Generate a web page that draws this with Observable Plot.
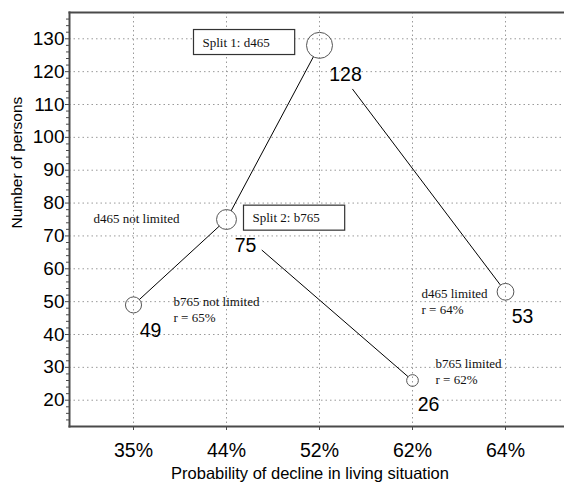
<!DOCTYPE html>
<html><head><meta charset="utf-8">
<script src="https://cdn.jsdelivr.net/npm/d3@7"></script>
<script src="https://cdn.jsdelivr.net/npm/@observablehq/plot@0.6"></script>
<style>body{margin:0;background:#fff} svg{font-family:"Liberation Sans",Arial,sans-serif}</style>
</head><body><div id="chart"></div>
<script>
const categories = ["35%", "44%", "52%", "62%", "64%"];
const persons = [49, 75, 128, 26, 53];
const yTicks = [20, 30, 40, 50, 60, 70, 80, 90, 100, 110, 120, 130];
const yMinorTicks = [14, 16, 18, 22, 24, 26, 28, 32, 34, 36, 38, 42, 44, 46, 48, 52, 54, 56, 58, 62, 64, 66, 68, 72, 74, 76, 78, 82, 84, 86, 88, 92, 94, 96, 98, 102, 104, 106, 108, 112, 114, 116, 118, 122, 124, 126, 128, 132, 134, 136];
const splitLabels = ["Split 1: d465", "Split 2: b765"];
const branchLabels = ["d465 not limited", "b765 not limited\nr = 65%", "d465 limited\nr = 64%", "b765 limited\nr = 62%"];
const xTitle = "Probability of decline in living situation";
const yTitle = "Number of persons";

const nodes = categories.map((p, i) => ({p, n: persons[i]}));
const node = i => [nodes[i]];
const edge = (a, b) => [{x1: categories[a], y1: persons[a], x2: categories[b], y2: persons[b]}];
const serif = "Liberation Serif, Times New Roman, serif";
const grid = {stroke: "#9a9a9a", strokeOpacity: 1, strokeWidth: 1, strokeDasharray: "1.5,3"};
const axisColor = "#4a4a4a";
const tagBox = (i, s, v, d, c, next) => { const g = next(i, s, v, d, c); g.classList.add("split-label"); return g; };

const numLabel = (i, dx, dy) => Plot.text(node(i), {x: "p", y: "n", text: d => String(d.n), dx, dy, fontSize: 19.5, letterSpacing: -0.5, fill: "#000"});
const branch = (i, k, dx, dy) => Plot.text(node(i), {x: "p", y: "n", text: () => branchLabels[k], dx, dy, textAnchor: "start", fontFamily: serif, fontSize: 13, lineHeight: 1.22, fill: "#111"});
const split = (i, k, dx, dy) => Plot.text(node(i), {x: "p", y: "n", text: () => splitLabels[k], dx, dy, textAnchor: "start", fontFamily: serif, fontSize: 13, fill: "#111", render: tagBox});
const link = (a, b, insetStart, insetEnd) => Plot.arrow(edge(a, b), {x1: "x1", y1: "y1", x2: "x2", y2: "y2", insetStart, insetEnd, headLength: 0, stroke: "#000", strokeWidth: 1});

const chart = Plot.plot({
  width: 564,
  height: 486,
  marginLeft: 69,
  marginRight: 0,
  marginTop: 12,
  marginBottom: 60,
  x: {type: "point", domain: categories, range: [132.7, 505], padding: 0},
  y: {domain: [12, 138]},
  r: {type: "sqrt", domain: [0, 128], range: [0, 13]},
  marks: [
    Plot.gridY(yTicks, grid),
    Plot.gridX(categories, grid),
    Plot.frame({anchor: "left", stroke: axisColor, strokeWidth: 2}),
    Plot.frame({anchor: "bottom", stroke: axisColor, strokeWidth: 2}),
    Plot.frame({anchor: "top", stroke: axisColor, strokeWidth: 2}),
    Plot.axisY({ticks: yMinorTicks, tickSize: 3, tickFormat: () => "", label: null, stroke: axisColor}),
    Plot.axisY({ticks: yTicks, tickSize: 4, tickPadding: 1, fontSize: 19, letterSpacing: -0.8, label: null, stroke: axisColor, fill: "#000"}),
    Plot.axisX({tickSize: 4, tickPadding: 13, fontSize: 19.5, letterSpacing: -0.3, label: null, stroke: axisColor, fill: "#000"}),
    link(0, 1, 8, 10),
    link(1, 2, 10, 13),
    link(2, 4, 55, 9),
    link(1, 3, 47, 6),
    Plot.dot(nodes, {x: "p", y: "n", r: "n", stroke: "#555", strokeWidth: 1, fill: "none"}),
    numLabel(0, 17, 26),
    numLabel(1, 19, 26),
    numLabel(2, 26, 29),
    numLabel(3, 16, 24),
    numLabel(4, 17, 25),
    branch(1, 0, -133, -2),
    branch(0, 1, 40, 4),
    branch(4, 2, -84, 9),
    branch(3, 3, 23, -9.5),
    split(2, 0, -117, -3),
    split(1, 1, 26, -1.5),
    Plot.text([yTitle], {frameAnchor: "left", text: d => d, rotate: -90, dx: -52, dy: 9, fontSize: 15.5, fill: "#000"}),
    Plot.text([xTitle], {frameAnchor: "bottom", text: d => d, dx: -7, dy: 52, fontSize: 16.5, fill: "#000"})
  ]
});
document.getElementById("chart").append(chart);

document.querySelectorAll("g.split-label text").forEach(t => {
  const b = t.getBBox();
  const cy = b.y + b.height / 2;
  const rect = document.createElementNS("http://www.w3.org/2000/svg", "rect");
  rect.setAttribute("x", b.x - 9);
  rect.setAttribute("y", cy - 12.5);
  rect.setAttribute("width", b.width + 34);
  rect.setAttribute("height", 25);
  rect.setAttribute("fill", "#fff");
  rect.setAttribute("stroke", "#333");
  rect.setAttribute("stroke-width", 1.2);
  if (t.getAttribute("transform")) rect.setAttribute("transform", t.getAttribute("transform"));
  t.parentNode.insertBefore(rect, t);
});
</script>
</body></html>
